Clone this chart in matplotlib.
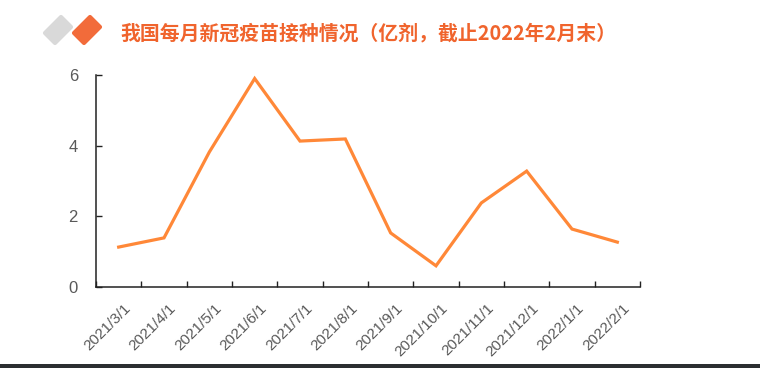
import matplotlib.pyplot as plt
import matplotlib.ticker as mticker
from matplotlib.patches import Polygon, Rectangle
from matplotlib.transforms import ScaledTranslation
import numpy as np

plt.rcParams['font.family'] = ['Liberation Sans', 'DejaVu Sans']

months = ["2021/3/1", "2021/4/1", "2021/5/1", "2021/6/1", "2021/7/1", "2021/8/1",
          "2021/9/1", "2021/10/1", "2021/11/1", "2021/12/1", "2022/1/1", "2022/2/1"]
doses = [1.13, 1.39, 3.82, 5.90, 4.13, 4.19, 1.53, 0.60, 2.38, 3.28, 1.64, 1.27]
title = "我国每月新冠疫苗接种情况（亿剂，截止2022年2月末）"

W, H = 760, 368
fig = plt.figure(figsize=(W / 100, H / 100), dpi=100)
ax = fig.add_axes([96 / W, 1 - 287 / H, (640 - 96) / W, (287 - 75) / H])

x = np.arange(len(months))
ax.plot(x, doses, color="#FF8838", lw=2.3, solid_joinstyle="miter")

ax.set_xlim(-0.5, len(months) - 0.5)
ax.set_ylim(0, 6)
ax.yaxis.set_major_locator(mticker.MultipleLocator(2))

# category ticks on boundaries, labels centred on the categories
ax.set_xticks(np.arange(-0.5, len(months), 1))
ax.set_xticklabels([])
ax.set_xticks(x, minor=True)
ax.set_xticklabels(months, minor=True, rotation=45, ha="right",
                   rotation_mode="anchor", fontsize=11, color="#595959")
ax.tick_params(axis="x", which="minor", length=0, pad=10)
ax.tick_params(axis="x", which="major", direction="in", length=4, width=1, color="#222222")
ax.tick_params(axis="y", direction="in", length=4, width=1, color="#222222",
               labelsize=12, labelcolor="#595959", pad=13)
offset = ScaledTranslation(5 / 100, 0, fig.dpi_scale_trans)
for lab in ax.get_xticklabels(minor=True):
    lab.set_transform(lab.get_transform() + offset)

for s in ["top", "right"]:
    ax.spines[s].set_visible(False)
for s in ["left", "bottom"]:
    ax.spines[s].set_color("#222222")
    ax.spines[s].set_linewidth(1.1)


# header icon and title, placed in figure pixels
def px(points):
    return [(a / W, 1 - b / H) for a, b in points]


gray = [(45, 33), (61, 17), (71, 27), (55, 43)]
orng = [(74, 33), (90, 17), (100, 27), (84, 43)]
fig.patches.append(Polygon(px(gray), closed=True, transform=fig.transFigure,
                           facecolor="#D9D9D9", edgecolor="#D9D9D9", lw=3, joinstyle="round"))
fig.patches.append(Polygon(px(orng), closed=True, transform=fig.transFigure,
                           facecolor="#F26B3A", edgecolor="#F26B3A", lw=3, joinstyle="round"))
fig.text(120 / W, 1 - 33 / H, title, fontsize=14.3, fontweight="bold", color="#F0642D",
         va="center", ha="left", family=["Noto Sans CJK SC", "DejaVu Sans"])

fig.patches.append(Rectangle((0, 0), 1, 4 / H, transform=fig.transFigure,
                             facecolor="#2B2E31", edgecolor="none"))

fig.savefig("out.png", dpi=100)
